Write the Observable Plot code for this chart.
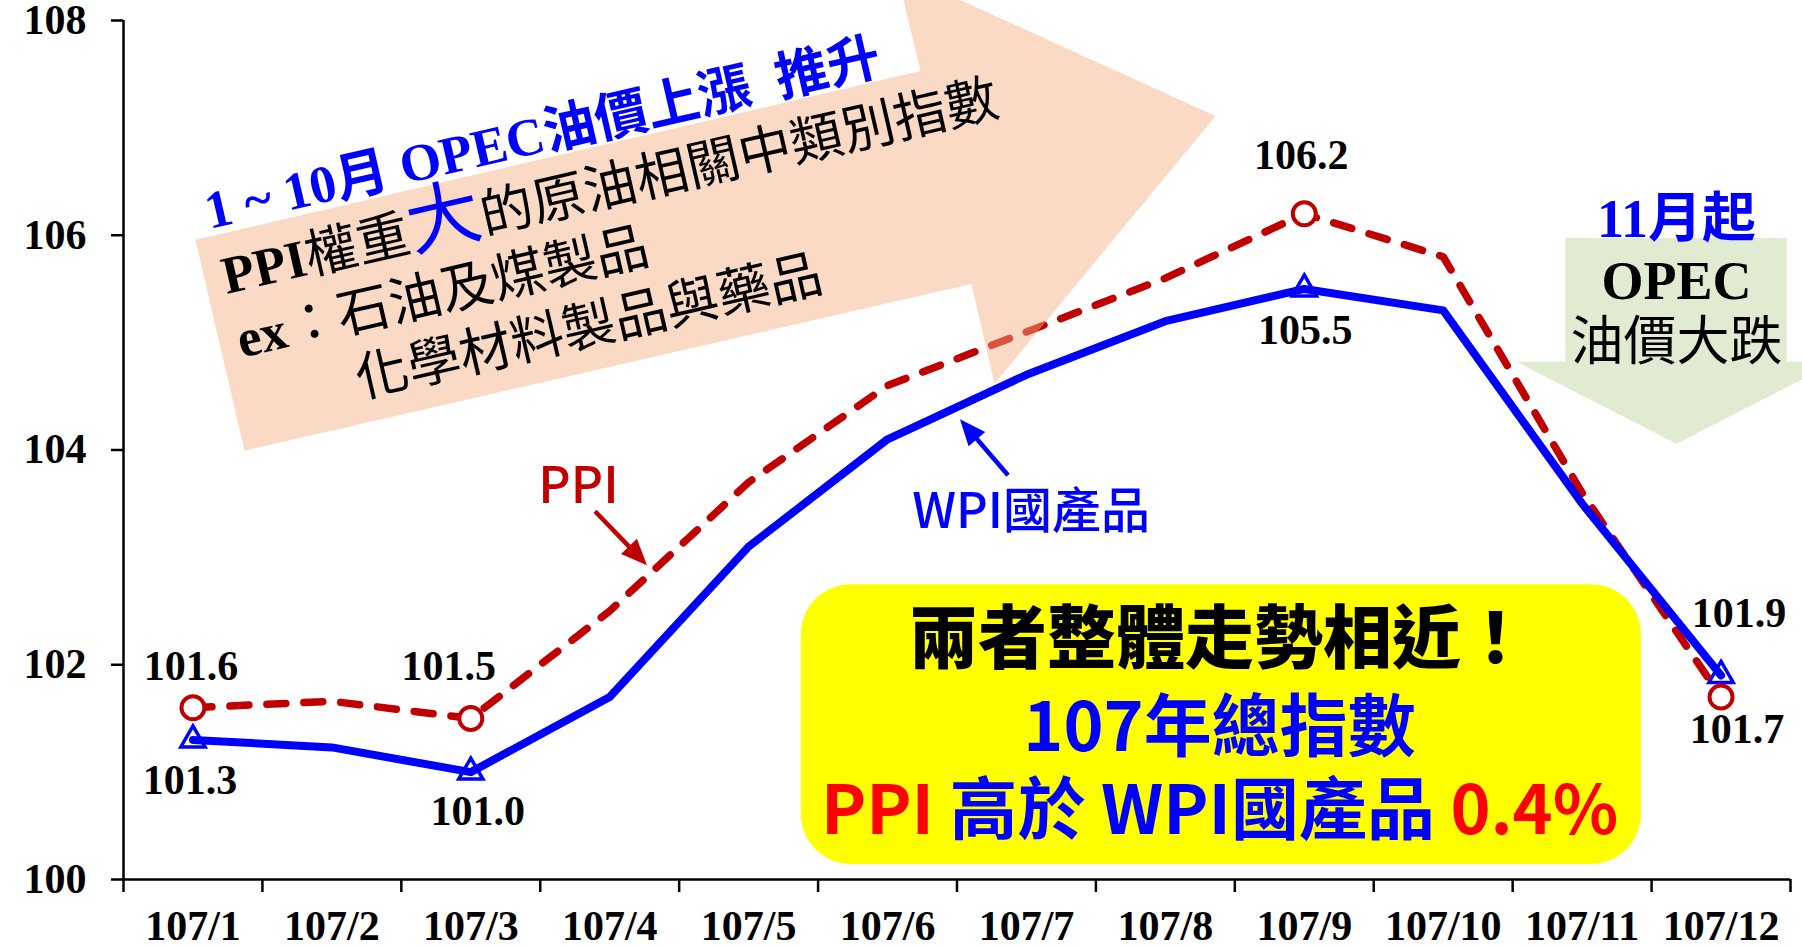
<!DOCTYPE html>
<html><head><meta charset="utf-8">
<script src="https://cdn.jsdelivr.net/npm/d3@7"></script>
<script src="https://cdn.jsdelivr.net/npm/@observablehq/plot@0.6"></script>
<style>
body{margin:0;background:#fff;}
#chart svg{display:block;}
</style></head><body><div id="chart"></div>
<script>
// ---- data ----
const months = ["107/1","107/2","107/3","107/4","107/5","107/6","107/7","107/8","107/9","107/10","107/11","107/12"];
const monthIndex = [1,2,3,4,5,6,7,8,9,10,11,12];
const ppiValues = [101.6,101.66,101.5,102.5,103.7,104.6,105.1,105.6,106.2,105.8,103.6,101.7];
const wpiValues = [101.3,101.23,101.0,101.7,103.1,104.1,104.7,105.2,105.5,105.3,103.5,101.9];
const markedMonths = [1,3,9,12];
const yTicks = [100,102,104,106,108];

// ---- annotation geometry (data units) ----
const peachArrow = [[1.018,105.957],[6.237,107.530],[6.064,108.461],[8.361,107.111],[6.770,104.617],[6.604,105.547],[1.371,103.993]];
const greenArrow = [[10.880,105.975],[12.471,105.975],[12.471,104.821],[12.831,104.821],[11.679,104.058],[10.527,104.821],[10.880,104.821]];
const yellowBox = [{x1:5.380,x2:11.427,y1:100.140,y2:102.746}];
const ppiPointer = [{x1:3.898,y1:103.425,x2:4.272,y2:102.923}];
const wpiPointer = [{x1:6.871,y1:103.760,x2:6.525,y2:104.281}];

const ppi = monthIndex.map((m,i)=>({m, v:ppiValues[i]}));
const wpi = monthIndex.map((m,i)=>({m, v:wpiValues[i]}));
const boundaries = d3.range(0.5, 12.6, 1);
const fmt = d3.format(".1f");

const serif = "'Liberation Serif', 'Times New Roman', serif";
const sans = "'Noto Sans CJK TC', 'Noto Sans', sans-serif";
const mixedBold = "'Liberation Serif', 'Noto Sans CJK TC', serif";

const pt = (arr) => arr.map(([x,y])=>({x,y}));

// filled-head arrow drawn through the plot's own scales
function pointerMark(data, color) {
  return (index, scales) => {
    const g = d3.create("svg:g");
    for (const d of data) {
      const x1 = scales.x(d.x1), y1 = scales.y(d.y1), x2 = scales.x(d.x2), y2 = scales.y(d.y2);
      const a = Math.atan2(y2 - y1, x2 - x1), L = 26, W = 11;
      const bx = x2 - L * Math.cos(a), by = y2 - L * Math.sin(a);
      g.append("line").attr("x1", x1).attr("y1", y1).attr("x2", bx + 2*Math.cos(a)).attr("y2", by + 2*Math.sin(a))
        .attr("stroke", color).attr("stroke-width", 4.5);
      g.append("path")
        .attr("d", `M${x2},${y2}L${bx + W*Math.sin(a)},${by - W*Math.cos(a)}L${bx - W*Math.sin(a)},${by + W*Math.cos(a)}Z`)
        .attr("fill", color);
    }
    return g.node();
  };
}

// data labels: [series, month, dx, dy]
const labelSpec = [
  [ppi, 1, -2, -28], [ppi, 3, -22, -38], [ppi, 9, -3, -45], [ppi, 12, 16, 46],
  [wpi, 1, -3, 54], [wpi, 3, 7, 53], [wpi, 9, 1, 55], [wpi, 12, 18, -48]
];
const labelMarks = labelSpec.map(([s, m, dx, dy]) =>
  Plot.text(s.filter(d => d.m === m), {x:"m", y:"v", text: d => fmt(d.v), dx, dy,
    lineAnchor:"bottom", fontFamily: serif, fontWeight:"bold", fontSize:42, fill:"black"}));

const svg = Plot.plot({
  width: 1802, height: 947,
  marginLeft: 123, marginRight: 12, marginTop: 20, marginBottom: 68,
  x: {type:"linear", domain:[0.5, 12.5]},
  y: {domain:[100,108]},
  style: {fontFamily: serif, fontWeight: "bold", fontSize: "42px", color: "black", background: "white", overflow: "visible"},
  marks: [
    Plot.rect(yellowBox, {x1:"x1", x2:"x2", y1:"y1", y2:"y2", fill:"#FFFF00", rx:50}),
    Plot.line(pt(greenArrow), {x:"x", y:"y", fill:"#E1EBD1", stroke:"none"}),
    Plot.ruleX([0.5], {strokeWidth:2.5, stroke:"black"}),
    Plot.ruleY([100], {strokeWidth:2.5, stroke:"black"}),
    Plot.axisY({ticks: yTicks, tickSize: 12, tickPadding: 25, tickFormat: d => d, strokeWidth: 2.5}),
    Plot.axisX({ticks: boundaries, tickSize: 13, tickFormat: () => "", strokeWidth: 2.5}),
    Plot.axisX({ticks: monthIndex, tickSize: 0, tickPadding: 31, tickFormat: i => months[i-1]}),
    Plot.dot(wpi.filter(d => markedMonths.includes(d.m)), {x:"m", y:"v", symbol:"triangle", r:9, fill:"white", stroke:"#0000FF", strokeWidth:3.5}),
    Plot.line(ppi, {x:"m", y:"v", stroke:"#C00000", strokeWidth:7.5, strokeDasharray:"19,18", strokeLinecap:"round"}),
    Plot.line(wpi, {x:"m", y:"v", stroke:"#0000FF", strokeWidth:8}),
    Plot.dot(ppi.filter(d => markedMonths.includes(d.m)), {x:"m", y:"v", r:11.5, fill:"white", stroke:"#C00000", strokeWidth:4}),
    Plot.line(pt(peachArrow), {x:"x", y:"y", fill:"#F4B183", fillOpacity:0.47, stroke:"none"}),
    // arrow texts
    Plot.text([{x:1.119,y:106.059,t:"1 ~ 10月 OPEC油價上漲  推升"}], {x:"x", y:"y", text:"t", rotate:-13, textAnchor:"start", lineAnchor:"bottom", fontFamily: mixedBold, fontWeight:"bold", fontSize:53, fill:"#0000FF"}),
    Plot.text([{x:1.241,y:105.454,t:"PPI權重大的原油相關中類別指數"}], {x:"x", y:"y", text:"t", rotate:-13, textAnchor:"start", lineAnchor:"bottom", fontFamily: sans, fontWeight:"normal", fontSize:53, fill:"black"}),
    Plot.text([{x:1.349,y:104.859,t:"ex：石油及煤製品"}], {x:"x", y:"y", text:"t", rotate:-13, textAnchor:"start", lineAnchor:"bottom", fontFamily: sans, fontWeight:"normal", fontSize:53, fill:"black"}),
    Plot.text([{x:2.206,y:104.486,t:"化學材料製品與藥品"}], {x:"x", y:"y", text:"t", rotate:-13, textAnchor:"start", lineAnchor:"bottom", fontFamily: sans, fontWeight:"normal", fontSize:53, fill:"black"}),
    // green arrow texts
    Plot.text([{x:11.679,y:105.985,t:"11月起"}], {x:"x", y:"y", text:"t", lineAnchor:"bottom", fontFamily: mixedBold, fontWeight:"bold", fontSize:54, fill:"#0000FF"}),
    Plot.text([{x:11.679,y:105.408,t:"OPEC"}], {x:"x", y:"y", text:"t", lineAnchor:"bottom", fontFamily: serif, fontWeight:"bold", fontSize:54, fill:"black"}),
    Plot.text([{x:11.679,y:104.840,t:"油價大跌"}], {x:"x", y:"y", text:"t", lineAnchor:"bottom", fontFamily: sans, fontWeight:"normal", fontSize:53, fill:"black"}),
    // yellow box texts
    Plot.text([{x:8.390,y:102.020,t:"兩者整體走勢相近！"}], {x:"x", y:"y", text:"t", lineAnchor:"bottom", fontFamily: sans, fontWeight:900, fontSize:69, fill:"black"}),
    Plot.text([{x:8.390,y:101.201,t:"107年總指數"}], {x:"x", y:"y", text:"t", lineAnchor:"bottom", fontFamily: sans, fontWeight:"bold", fontSize:68, fill:"#0000FF"}),
    Plot.text([{x:8.390,y:100.428,t:"PPI 高於 WPI國產品 0.4%"}], {x:"x", y:"y", text:"t", lineAnchor:"bottom", fontFamily: sans, fontWeight:"bold", fontSize:68, fill:"#0000FF"}),
    // series call-outs
    Plot.text([{x:3.775,y:103.509,t:"PPI"}], {x:"x", y:"y", text:"t", lineAnchor:"bottom", fontFamily: sans, fontWeight:500, fontSize:50, fill:"#C00000"}),
    pointerMark(ppiPointer, "#C00000"),
    Plot.text([{x:7.033,y:103.276,t:"WPI國產品"}], {x:"x", y:"y", text:"t", lineAnchor:"bottom", fontFamily: sans, fontWeight:500, fontSize:49, fill:"#0000FF"}),
    pointerMark(wpiPointer, "#0000FF"),
    ...labelMarks
  ]
});

// rich-text styling for mixed runs
const richSpecs = {
  "PPI權重大的原油相關中類別指數": [
    {t:"PPI", font: serif, weight:"bold"}, {t:"權重"}, {t:"大", fill:"#0000FF", size:74}, {t:"的原油相關中類別指數"}],
  "ex：石油及煤製品": [{t:"ex", font: serif, weight:"bold"}, {t:"：石油及煤製品"}],
  "PPI 高於 WPI國產品 0.4%": [{t:"PPI ", fill:"#FF0000"}, {t:"高於 WPI國產品 "}, {t:"0.4%", fill:"#FF0000"}]
};
d3.select(svg).selectAll("text").each(function() {
  const spec = richSpecs[this.textContent];
  if (!spec) return;
  const sel = d3.select(this);
  sel.text(null);
  spec.forEach(s => {
    const ts = sel.append("tspan").text(s.t);
    if (s.fill) ts.attr("fill", s.fill);
    if (s.font) ts.attr("font-family", s.font);
    if (s.weight) ts.attr("font-weight", s.weight);
    if (s.size) ts.attr("font-size", s.size);
  });
});
document.getElementById("chart").appendChild(svg);
</script></body></html>
